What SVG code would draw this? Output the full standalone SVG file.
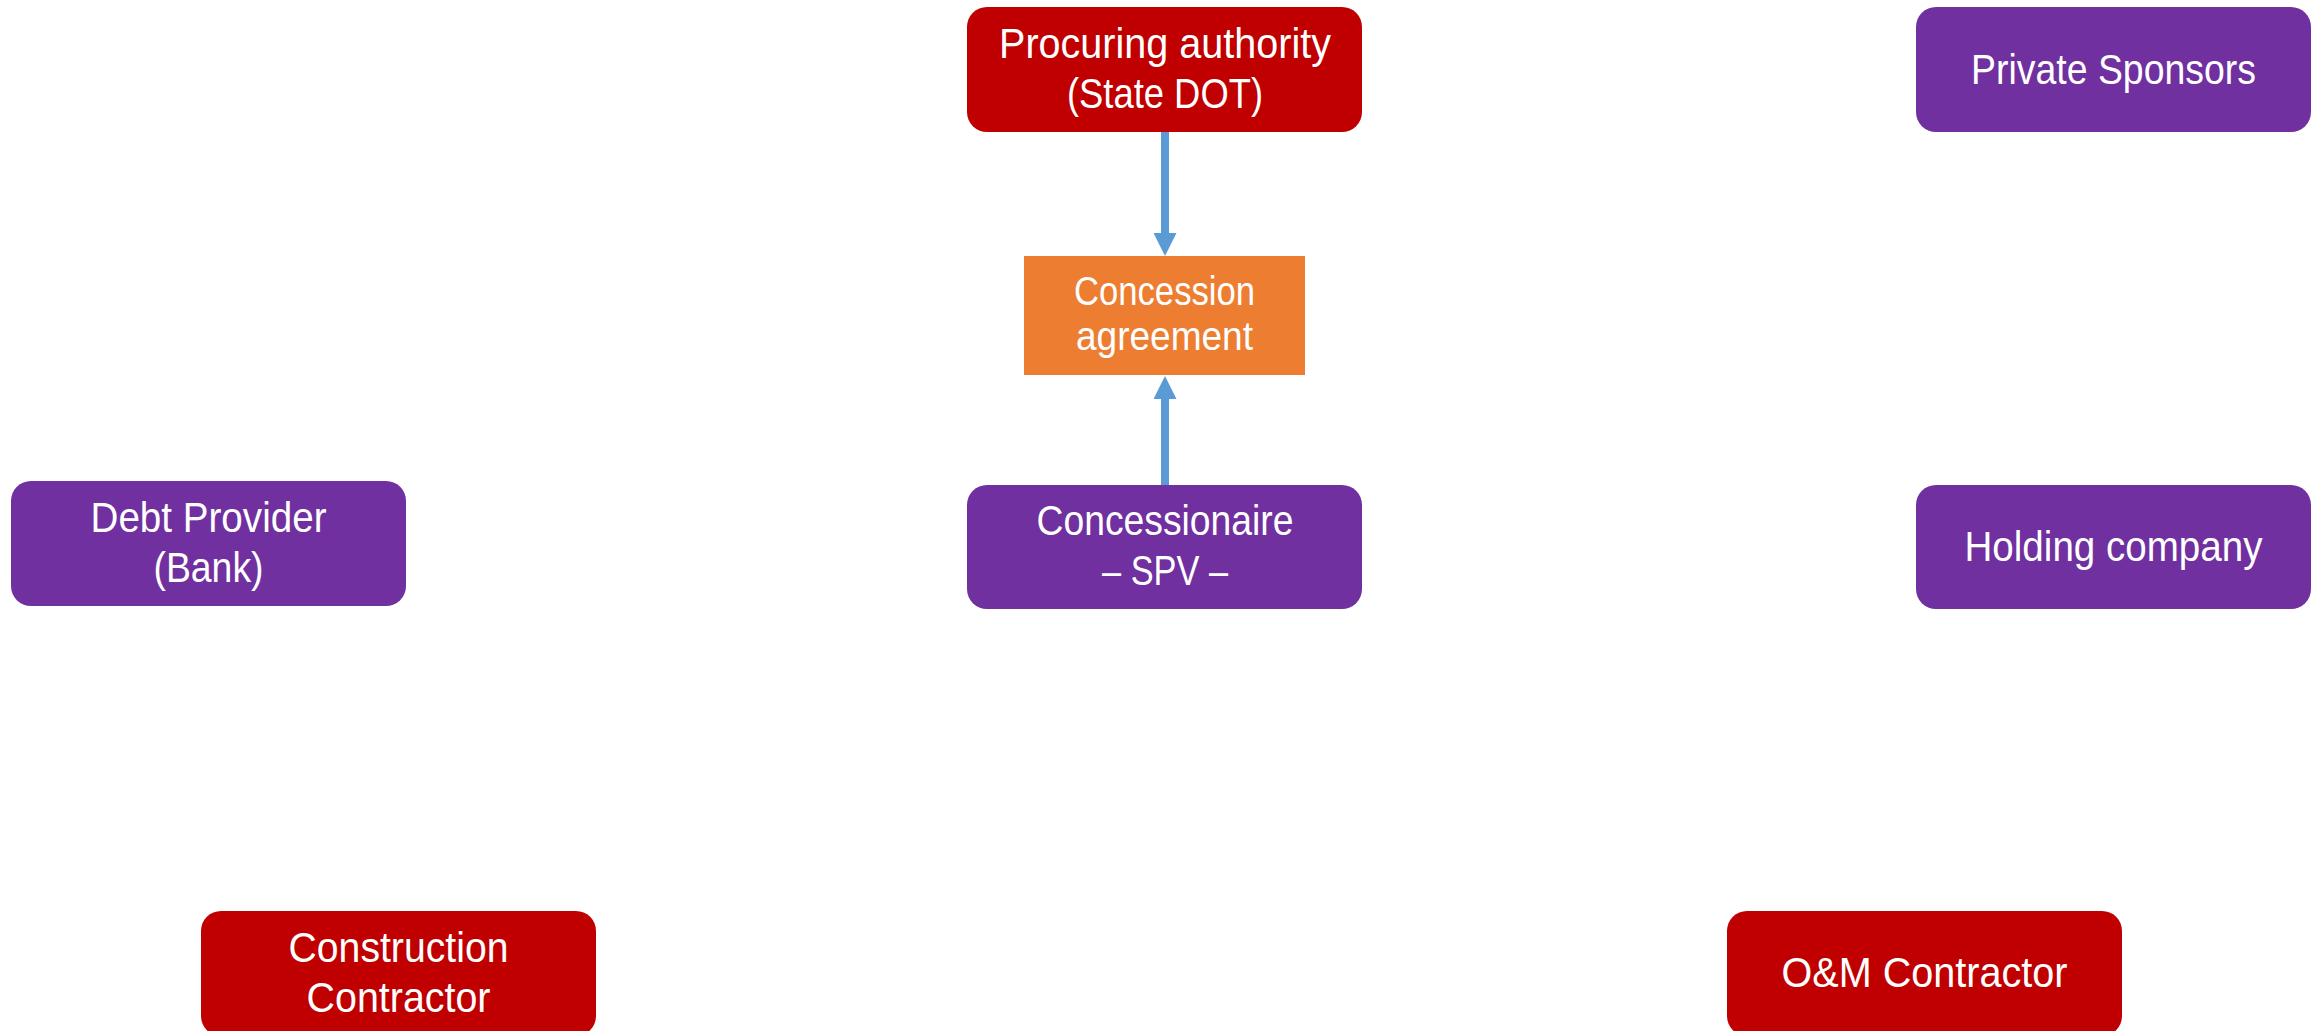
<svg xmlns="http://www.w3.org/2000/svg" width="2323" height="1031" viewBox="0 0 2323 1031">
<style>
.red{fill:#C00000}
.pur{fill:#7030A0}
.ora{fill:#ED7D31}
text{font-family:"Liberation Sans",Arial,sans-serif;fill:#FFFFFF;text-anchor:middle}
.t42{font-size:42px}
.t40{font-size:40px}
.con{stroke:#5B9BD5;stroke-width:8;fill:none}
</style>
<defs>
<marker id="arr" viewBox="0 0 23 23" refX="0" refY="11.5" markerWidth="23" markerHeight="23" markerUnits="userSpaceOnUse" orient="auto">
<path d="M0,0 L23,11.5 L0,23 z" fill="#5B9BD5"/>
</marker>
</defs>
<rect width="2323" height="1031" fill="#FFFFFF"/>
<g id="connectors">
<path class="con" d="M1165,132 L1165,233" marker-end="url(#arr)"/>
<path class="con" d="M1165,486 L1165,399" marker-end="url(#arr)"/>
</g>
<g id="procuring">
<rect class="red" x="967" y="7" width="395" height="125" rx="20"/>
<text class="t42" x="1165" y="58" textLength="332" lengthAdjust="spacingAndGlyphs">Procuring authority</text>
<text class="t42" x="1165" y="108" textLength="196" lengthAdjust="spacingAndGlyphs">(State DOT)</text>
</g>
<g id="private-sponsors">
<rect class="pur" x="1916" y="7" width="395" height="125" rx="20"/>
<text class="t42" x="2113.5" y="84" textLength="285" lengthAdjust="spacingAndGlyphs">Private Sponsors</text>
</g>
<g id="concession">
<rect class="ora" x="1024" y="256" width="281" height="119"/>
<text class="t40" x="1164.5" y="305" textLength="181" lengthAdjust="spacingAndGlyphs">Concession</text>
<text class="t40" x="1164.5" y="350" textLength="177" lengthAdjust="spacingAndGlyphs">agreement</text>
</g>
<g id="debt-provider">
<rect class="pur" x="11" y="481" width="395" height="125" rx="20"/>
<text class="t42" x="208.5" y="532" textLength="236" lengthAdjust="spacingAndGlyphs">Debt Provider</text>
<text class="t42" x="208.5" y="582" textLength="110" lengthAdjust="spacingAndGlyphs">(Bank)</text>
</g>
<g id="concessionaire">
<rect class="pur" x="967" y="485" width="395" height="124" rx="20"/>
<text class="t42" x="1165" y="535" textLength="257" lengthAdjust="spacingAndGlyphs">Concessionaire</text>
<text class="t42" x="1165" y="585" textLength="126" lengthAdjust="spacingAndGlyphs">– SPV –</text>
</g>
<g id="holding-company">
<rect class="pur" x="1916" y="485" width="395" height="124" rx="20"/>
<text class="t42" x="2113.5" y="561" textLength="298" lengthAdjust="spacingAndGlyphs">Holding company</text>
</g>
<g id="construction-contractor">
<rect class="red" x="201" y="911" width="395" height="125" rx="20"/>
<text class="t42" x="398.5" y="962" textLength="220" lengthAdjust="spacingAndGlyphs">Construction</text>
<text class="t42" x="398.5" y="1012" textLength="184" lengthAdjust="spacingAndGlyphs">Contractor</text>
</g>
<g id="om-contractor">
<rect class="red" x="1727" y="911" width="395" height="125" rx="20"/>
<text class="t42" x="1924.5" y="987" textLength="286" lengthAdjust="spacingAndGlyphs">O&amp;M Contractor</text>
</g>
</svg>
